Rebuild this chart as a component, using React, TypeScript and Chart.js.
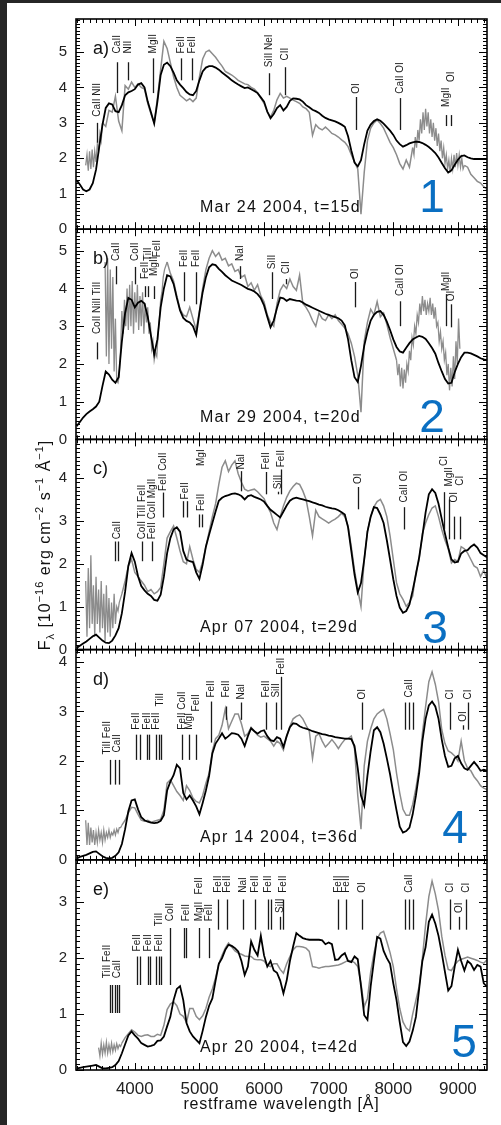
import React, { useEffect, useRef } from "react";
import { Chart, registerables } from "chart.js";
Chart.register(...registerables);

const FONT = "'Liberation Sans', Arial, Helvetica, sans-serif";

// wavelength grid [Å]
const W = [
  3100, 3150, 3200, 3250, 3300, 3350, 3400, 3450, 3500, 3550,
  3600, 3650, 3700, 3750, 3800, 3850, 3900, 3950, 4000, 4050,
  4100, 4150, 4200, 4250, 4300, 4350, 4400, 4450, 4500, 4550,
  4600, 4650, 4700, 4750, 4800, 4850, 4900, 4950, 5000, 5050,
  5100, 5150, 5200, 5250, 5300, 5350, 5400, 5450, 5500, 5550,
  5600, 5650, 5700, 5750, 5800, 5850, 5900, 5950, 6000, 6050,
  6100, 6150, 6200, 6250, 6300, 6350, 6400, 6450, 6500, 6550,
  6600, 6650, 6700, 6750, 6800, 6850, 6900, 6950, 7000, 7050,
  7100, 7150, 7200, 7250, 7300, 7350, 7400, 7450, 7500, 7550,
  7600, 7650, 7700, 7750, 7800, 7850, 7900, 7950, 8000, 8050,
  8100, 8150, 8200, 8250, 8300, 8350, 8400, 8450, 8500, 8550,
  8600, 8650, 8700, 8750, 8800, 8850, 8900, 8950, 9000, 9050,
  9100, 9150, 9200, 9250, 9300, 9350, 9400, 9450,
];

// panel a) Mar 24 2004
const A_MODEL = [
  1.38, 1.26, 1.12, 1.07, 1.12, 1.3, 1.68, 2.33, 2.95, 3.42,
  3.55, 3.52, 3.33, 3.3, 3.5, 3.78, 3.86, 3.9, 3.95, 4.08,
  4.12, 4.0, 3.6, 3.3, 2.98, 3.6, 4.35, 4.64, 4.7, 4.6,
  4.42, 4.2, 4.08, 3.98, 3.87, 3.8, 3.78, 3.9, 4.2, 4.45,
  4.56, 4.6, 4.6, 4.56, 4.5, 4.42, 4.35, 4.28, 4.2, 4.14,
  4.08, 4.03, 3.98, 4.0, 3.95, 3.9, 3.84, 3.72, 3.6, 3.32,
  3.13, 3.25, 3.42, 3.5, 3.35, 3.45, 3.62, 3.69, 3.68, 3.66,
  3.6, 3.5, 3.44, 3.37, 3.33, 3.28, 3.2, 3.14, 3.1, 3.07,
  3.04, 3.0, 2.95, 2.89, 2.62, 2.22, 1.88, 1.77, 1.95, 2.4,
  2.78, 2.95, 3.05, 3.1, 3.06, 2.98, 2.88, 2.78, 2.66, 2.5,
  2.4, 2.33, 2.37, 2.42, 2.45, 2.47, 2.46, 2.43, 2.38, 2.32,
  2.24, 2.15, 2.02, 1.87, 1.72, 1.6, 1.66, 1.82, 1.96, 2.06,
  2.08, 2.03, 2.0, 1.98, 1.98, 1.98, 1.98, 1.98,
];
const A_OBS = [
  null, null, null, null, null, null, null, null, 3.0, 2.9,
  3.35, 3.3, 3.75, 3.05, 2.78, 4.05, 3.95, 4.15, 4.0, 4.1,
  4.0, 3.95, 3.55, 3.25, 3.0, 3.7, 4.5, 5.3, 5.1, 4.7,
  4.3, 4.0, 3.78, 3.7, 3.62, 3.68, 3.6, 3.7, 4.3, 4.8,
  5.0, 5.05, 4.95, 4.85, 4.72, 4.6, 4.45, 4.4, 4.35, 4.28,
  4.2, 4.15, 4.1, 4.08, 4.0, 3.95, 3.85, 3.7, 3.55, 3.3,
  3.17, 3.35, 3.65, 3.83, 3.7, 3.75, 3.7, 3.64, 3.6, 3.55,
  3.45, 3.4, 3.3, 2.65, 2.95, 2.85, 2.8, 2.88, 2.8, 2.7,
  2.66, 2.6, 2.52, 2.45, 2.33, 2.1, 1.9, 1.7, 0.42, 1.6,
  2.5, 2.85, 3.0, 3.08, 2.98, 2.85, 2.65, 2.45, 2.3, 2.1,
  1.85, 1.7, 1.95, 1.75, 2.3, null, null, null, null, null,
  null, null, null, null, null, null, null, null, null, null,
  1.8, 1.75, 1.55, 1.45, 1.35, 1.3, 1.2, 1.12,
];
// noisy stretches of the observed spectrum, sampled every 20 Å: [start Å, step Å, values]
const A_NOISE_1 = [3240, 20, [1.8, 2.1, 1.65, 2.2, 1.7, 2.25, 1.75, 2.2, 1.9, 2.4, 2.2, 2.7, 2.5, 3.0]];
const A_NOISE_2 = [8300, 20, [
  2.3, 2.1, 2.6, 2.3, 2.8, 2.5, 3.1, 2.7, 3.3, 2.8,
  3.4, 2.9, 3.3, 2.7, 3.1, 2.6, 3.0, 2.5, 2.85, 2.35,
  2.7, 2.2, 2.5, 2.0, 2.3, 1.85, 2.1, 1.7, 1.95, 1.6,
  2.0, 1.7, 2.1, 1.75, 2.15, 1.8, 2.1, 1.75, 2.0, 1.7,
  1.8,
]];

// panel b) Mar 29 2004
const B_MODEL = [
  0.35, 0.46, 0.58, 0.67, 0.74, 0.8, 0.87, 1.0, 1.42, 1.8,
  1.72, 1.58, 1.5, 1.65, 2.6, 3.35, 3.75, 3.7, 3.5, 3.62,
  3.67, 3.6, 3.25, 2.75, 2.25, 2.65, 3.5, 4.0, 4.35, 4.32,
  4.12, 3.75, 3.42, 3.22, 3.14, 3.1, 3.0, 2.77, 3.36, 3.9,
  4.3, 4.56, 4.64, 4.62, 4.52, 4.44, 4.35, 4.28, 4.21, 4.17,
  4.13, 4.09, 4.04, 3.99, 3.96, 3.92, 3.85, 3.74, 3.55, 3.25,
  2.97, 3.15, 3.48, 3.76, 3.74, 3.67, 3.72, 3.7, 3.68, 3.67,
  3.63, 3.57, 3.53, 3.49, 3.45, 3.41, 3.37, 3.33, 3.3, 3.27,
  3.24, 3.21, 3.15, 3.02, 2.65, 2.1, 1.65, 1.52, 1.95, 2.48,
  2.85, 3.15, 3.3, 3.38, 3.4, 3.3, 3.12, 2.9, 2.65, 2.45,
  2.33, 2.3, 2.43, 2.55, 2.65, 2.7, 2.74, 2.72, 2.66, 2.55,
  2.42, 2.27, 2.02, 1.8, 1.6, 1.48, 1.5, 1.78, 2.0, 2.18,
  2.3, 2.3, 2.28, 2.24, 2.2, 2.15, 2.12, 2.1,
];
const B_OBS = [
  null, null, null, null, null, null, null, null, null, null,
  null, null, null, null, null, null, null, null, null, null,
  null, null, null, null, null, null, null, null, 4.7, 4.4,
  4.2, 3.8, 3.45, 3.3, 3.25, 3.5, 3.2, 2.9, 3.4, 4.0,
  4.5, 4.8, 5.0, 4.85, 4.95, 4.75, 4.8, 4.6, 4.65, 4.45,
  4.5, 4.3, 4.35, 4.05, 4.15, 3.95, 4.1, 3.8, 3.65, 3.3,
  3.1, 3.0, 3.6, 3.95, 4.1, 4.0, 4.25, 4.05, 3.95, 4.35,
  3.6, 3.5, 3.35, 3.15, 3.0, 3.35, 3.2, 3.15, 3.3, 3.2,
  3.3, 3.15, 3.05, 2.95, 2.8, 2.55, 2.2, 1.7, 0.72, 2.6,
  3.1, 3.45, 3.3, 3.65, 3.25, 3.35, 3.05, 2.7, 2.4, 2.1,
  null, null, null, null, null, null, null, null, null, null,
  null, null, null, null, null, null, null, null, null, null,
  null, null, null, null, null, null, null, null,
];
const B_NOISE_1 = [3540, 20, [
  4.7, 2.2, 4.8, 2.0, 4.5, 2.4, 4.3, 1.8, 3.2, 1.55,
  1.5, 1.7, 2.4, 3.4, 2.8, 3.7, 3.0, 4.0, 2.9, 4.1,
  3.0, 4.2, 2.8, 3.9, 3.1, 4.1, 2.9, 3.8, 3.0, 3.9,
  2.8, 3.6, 3.1, 3.5, 2.8, 3.1, 2.4, 2.6, 2.1, 2.3,
  2.2, 2.8, 3.2, 3.7, 3.9, 4.3, 4.5, 4.6, 4.7,
]];
const B_NOISE_2 = [8050, 20, [
  2.1, 1.7, 2.0, 1.4, 1.9, 1.35, 1.85, 1.5, 2.0, 1.8,
  2.35, 2.1, 2.7, 2.5, 3.0, 2.8, 3.3, 3.1, 3.6, 3.3,
  3.8, 3.4, 3.7, 3.3, 3.6, 3.4, 3.75, 3.3, 3.6, 3.2,
  3.5, 3.0, 3.1, 2.6, 2.85, 2.4, 2.6, 2.1, 2.3, 1.7,
  2.0, 1.3, 1.9, 1.4, 2.2, 1.6, 2.6, 2.0, 3.2, 2.4,
]];

// panel c) Apr 07 2004
const C_MODEL = [
  0.04, 0.09, 0.14, 0.19, 0.25, 0.31, 0.35, 0.28, 0.21, 0.16,
  0.15, 0.21, 0.33, 0.5, 0.85, 1.35, 1.95, 2.25, 2.05, 1.71,
  1.48, 1.38, 1.3, 1.25, 1.16, 1.14, 1.28, 1.7, 2.25, 2.6,
  2.8, 2.85, 2.75, 2.3, 2.1, 2.06, 2.04, 1.8, 1.65, 1.98,
  2.4, 2.68, 2.95, 3.22, 3.47, 3.54, 3.58, 3.6, 3.63, 3.64,
  3.62, 3.58, 3.5, 3.58, 3.6, 3.56, 3.53, 3.5, 3.45, 3.35,
  3.26, 3.2, 3.14, 3.08, 3.22, 3.36, 3.47, 3.52, 3.54, 3.52,
  3.5, 3.48, 3.46, 3.43, 3.41, 3.38, 3.36, 3.33, 3.31, 3.29,
  3.28, 3.25, 3.2, 3.15, 2.85, 2.3, 1.75, 1.33, 1.55, 2.1,
  2.75, 3.1, 3.32, 3.3, 3.15, 2.95, 2.55, 2.1, 1.64, 1.25,
  0.98, 0.86, 0.9, 1.05, 1.38, 1.75, 2.15, 2.65, 3.2, 3.62,
  3.74, 3.65, 3.4, 3.04, 2.7, 2.38, 2.1, 2.03, 2.05, 2.24,
  2.3, 2.32, 2.4, 2.45, 2.38, 2.25, 2.2, 2.15,
];
const C_OBS = [
  null, null, null, null, null, null, null, null, null, null,
  null, null, null, null, 1.3, 1.6, 1.95, 2.1, 1.8, 1.7,
  1.6, 1.5, 1.35, 1.4, 1.3, 1.35, 1.45, 2.0, 2.6, 2.75,
  2.88, 2.6, 2.3, 2.05, 2.0, 2.4, 2.1, 1.87, 1.8, 2.05,
  2.4, 2.75, 3.1, 3.4, 3.85, 4.25, 4.4, 4.15, 4.3, 4.4,
  4.1, 3.9, 3.74, 3.7, 3.72, 3.74, 3.68, 3.6, 3.52, 3.35,
  3.2, 2.95, 2.8, 3.1, 3.35, 3.55, 3.7, 3.8, 3.88, 3.85,
  3.7, 3.5, 3.1, 2.65, 3.25, 3.1, 3.05, 3.0, 2.95, 3.0,
  3.04, 3.1, 3.18, 3.1, 2.88, 2.4, 1.85, 1.4, 1.0, 2.1,
  2.75, 3.1, 3.33, 3.45, 3.5, 3.35, 3.1, 2.65, 2.1, 1.56,
  1.3, 1.17, 1.01, 1.1, 1.25, 1.8, 2.1, 2.7, 2.95, 3.15,
  3.3, 3.35, 3.1, 2.8, 2.55, 2.35, 2.02, 2.1, 2.05, 2.4,
  2.35, 2.25, 2.1, 1.95, 1.9, 1.7, 1.85, 1.65,
];
const C_NOISE_1 = [3240, 20, [
  1.6, 0.3, 1.9, 0.5, 2.2, 0.6, 1.5, 0.3, 1.7, 0.6,
  1.4, 0.4, 1.6, 0.5, 1.3, 0.2, 1.5, 0.4, 1.2, 0.3,
  1.1, 0.5, 1.3, 0.6, 1.0, 0.9, 1.1, 1.2, 1.3,
]];

// panel d) Apr 14 2004
const D_MODEL = [
  0.03, 0.06, 0.08, 0.1, 0.13, 0.16, 0.17, 0.12, 0.07, 0.04,
  0.03, 0.04, 0.08, 0.15, 0.32, 0.62, 0.98, 1.2, 1.22, 1.02,
  0.86, 0.8, 0.77, 0.75, 0.74, 0.75, 0.79, 0.9, 1.4, 1.58,
  1.71, 1.92, 1.85, 1.35, 1.22, 1.3, 1.2, 1.08, 0.92, 1.15,
  1.4, 1.7, 2.15, 2.35, 2.45, 2.56, 2.45, 2.5, 2.56, 2.55,
  2.53, 2.45, 2.3, 2.5, 2.66, 2.6, 2.55, 2.6, 2.62, 2.5,
  2.42, 2.4, 2.48, 2.45, 2.28, 2.5, 2.68, 2.76, 2.75, 2.7,
  2.67, 2.65, 2.63, 2.6, 2.58, 2.56, 2.54, 2.53, 2.51, 2.5,
  2.48, 2.47, 2.46, 2.45, 2.45, 2.44, 2.3, 1.85, 1.3, 1.1,
  1.7, 2.2, 2.62, 2.68, 2.58, 2.35, 2.05, 1.73, 1.35, 1.0,
  0.67, 0.55, 0.58, 0.65, 0.92, 1.3, 1.75, 2.4, 2.85, 3.12,
  3.2, 3.1, 2.85, 2.43, 2.1, 1.88, 1.9, 2.05, 2.1, 1.95,
  1.85, 1.82, 1.9, 1.98, 1.9, 1.8, 1.82, 1.8,
];
const D_OBS = [
  null, null, null, null, null, null, null, null, null, null,
  null, null, null, null, 0.7, 0.8, 0.95, 1.06, 1.05, 0.92,
  0.8, 0.78, 0.8, 0.76, 0.78, 0.8, 0.82, 1.0, 1.55, 1.62,
  1.5, 1.38, 1.3, 1.2, 1.5, 1.4, 1.25, 1.18, 1.15, 1.3,
  1.55, 1.75, 2.2, 2.45, 2.52, 2.72, 3.05, 2.65, 2.8, 2.95,
  2.95, 2.75, 2.5, 2.55, 2.68, 2.6, 2.52, 2.48, 2.5, 2.45,
  2.4, 2.3, 2.4, 2.35, 2.22, 2.5, 2.7, 2.85, 2.9, 2.93,
  2.85, 2.72, 2.6, 2.05, 2.5, 2.55, 2.4, 2.28, 2.35, 2.43,
  2.35, 2.25, 2.35, 2.43, 2.45, 2.5, 2.25, 1.3, 0.62, 1.9,
  2.4, 2.65, 2.85, 2.95, 3.0, 3.04, 2.85, 2.55, 2.23, 1.75,
  1.35, 1.02, 0.9, 0.9, 1.12, 1.45, 1.85, 2.55, 3.1, 3.6,
  3.8, 3.55, 3.2, 2.63, 2.35, 2.2, 2.16, 2.1, 2.0, 2.4,
  2.0, 1.85, 1.8, 1.68, 1.6, 1.5, 1.45, 1.42,
];
const D_NOISE_1 = [3240, 20, [
  0.8, 0.3, 0.75, 0.3, 0.65, 0.35, 0.6, 0.3, 0.55, 0.35,
  0.6, 0.4, 0.55, 0.35, 0.6, 0.4, 0.55, 0.45, 0.6, 0.45,
  0.55, 0.5, 0.6, 0.5, 0.62, 0.55, 0.65, 0.65, 0.7,
]];

// panel e) Apr 20 2004
const E_MODEL = [
  0.03, 0.04, 0.05, 0.06, 0.07, 0.08, 0.09, 0.06, 0.03, 0.03,
  0.04, 0.05, 0.09, 0.16, 0.3, 0.46, 0.62, 0.69, 0.62, 0.56,
  0.48, 0.45, 0.42, 0.43, 0.45, 0.52, 0.53, 0.6, 0.78, 0.95,
  1.25, 1.45, 1.5, 1.25, 0.84, 0.69, 0.6, 0.54, 0.48, 0.7,
  0.95, 1.15, 1.28, 1.6, 1.9, 2.0, 2.15, 2.24, 2.22, 2.18,
  2.12, 1.95, 1.7, 1.85, 2.3, 2.15, 2.05, 2.4, 2.05, 1.85,
  1.95, 1.78, 1.74, 1.6, 1.37, 1.6, 1.95, 2.21, 2.45, 2.4,
  2.36, 2.34, 2.33, 2.33, 2.33, 2.33, 2.32, 2.25, 2.28, 2.25,
  1.97, 1.98, 2.05, 2.09, 1.95, 1.93, 2.03, 1.98, 1.5, 0.98,
  0.9, 1.5, 1.95, 2.38, 2.35, 2.13, 2.0, 1.9, 1.55, 1.25,
  0.85, 0.5, 0.43, 0.51, 0.7, 0.95, 1.45, 1.95, 2.2, 2.65,
  2.78, 2.62, 2.4, 2.09, 1.75, 1.42, 1.5, 1.85, 2.15, 1.95,
  1.78, 1.95, 1.9, 1.79, 1.88, 1.85, 1.55, 1.49,
];
const E_OBS = [
  null, null, null, null, null, null, null, null, null, null,
  null, null, null, null, 0.48, 0.58, 0.65, 0.72, 0.68, 0.62,
  0.6, 0.62, 0.63, 0.6, 0.6, 0.64, 0.62, 0.8, 1.08, 1.18,
  1.22, 1.15, 1.0, 0.96, 0.85, 1.1, 1.1, 0.96, 0.9, 0.97,
  1.1, 1.3, 1.45, 1.65, 1.9, 2.05, 2.18, 2.27, 2.2, 2.13,
  2.09, 2.07, 2.04, 2.03, 2.03, 1.98, 1.97, 1.97, 1.95, 1.87,
  1.85, 1.9, 1.9, 1.8, 1.73, 1.9, 2.03, 2.15, 2.21, 2.21,
  2.2, 2.18, 2.12, 1.85, 1.84, 1.82, 1.84, 1.85, 1.85, 1.86,
  1.87, 1.88, 1.9, 1.93, 1.96, 1.95, 1.92, 1.85, 1.55, 1.13,
  1.28, 1.75, 2.08, 2.35, 2.45, 2.48, 2.3, 2.1, 1.85, 1.45,
  1.1, 0.86, 0.75, 0.7, 1.0, 1.25, 1.5, 2.0, 2.6, 3.1,
  3.38, 3.15, 2.85, 2.39, 2.05, 1.8, 1.78, 1.88, 1.95, 1.98,
  2.0, 2.02, 2.0, 1.98, 1.96, 1.93, 1.91, 1.97,
];
const E_NOISE_1 = [3440, 20, [
  0.4, 0.25, 0.48, 0.28, 0.45, 0.3, 0.5, 0.3, 0.45, 0.32,
  0.48, 0.33, 0.45, 0.35, 0.47, 0.38, 0.45, 0.42, 0.48,
]];

// line identifications: [wavelength, text, line low, line high, text start]
type LineId = [number, string, number | null, number | null, number | null];
const A_LINES: LineId[] = [
  [3417, "CaII NII", 2.44, 3.0, 3.17],
  [3727, "CaII", 3.84, 4.71, 4.96],
  [3887, "NII", 4.2, 4.71, 4.96],
  [4283, "MgII", 3.84, 4.82, 4.96],
  [4722, "FeII", 4.2, 4.82, 4.96],
  [4892, "FeII", 4.2, 4.82, 4.96],
  [6077, "SiII NeI", 3.78, 4.4, 4.57],
  [6319, "CII", 3.78, 4.57, 4.76],
  [7417, "OI", 2.8, 3.73, 3.82],
  [8108, "CaII OI", 2.8, 3.7, 3.82],
  [8819, "MgII", 2.91, 3.22, 3.45],
  [8896, "OI", 2.91, 3.22, 4.15],
];
const B_LINES: LineId[] = [
  [3408, "CoII NiII TiII", 2.12, 2.57, 2.79],
  [3706, "CaII", 4.11, 4.59, 4.73],
  [4000, "CoII", 4.11, 4.57, 4.73],
  [4160, "FeII", 3.77, 4.06, 4.25],
  [4211, "TiII", 3.77, 4.06, 4.73],
  [4294, "MgII", 3.72, 4.06, 4.33],
  [4336, "FeII", null, null, 4.83],
  [4758, "FeII", 3.66, 4.43, 4.57],
  [4954, "FeII", 3.58, 4.43, 4.57],
  [5623, "NaI", 4.25, 4.59, 4.73],
  [6129, "SiII", 3.72, 4.43, 4.51],
  [6345, "CII", 4.11, 4.25, 4.38],
  [7401, "OI", 3.5, 4.17, 4.25],
  [8108, "CaII OI", 3.0, 3.66, 3.8],
  [8818, "MgII", 3.0, 3.85, 3.93],
  [8896, "OI", 2.97, 3.58, 3.66],
];
const C_LINES: LineId[] = [
  [3700, "", 2.06, 2.52, null],
  [3740, "", 2.06, 2.52, null],
  [3720, "CaII", null, null, 2.57],
  [4119, "CoII TiII FeII", 2.06, 2.52, 2.57],
  [4273, "FeII CoII MgII", 2.06, 2.52, 2.57],
  [4438, "FeII CoII", 3.08, 3.66, 3.7],
  [4747, "", 3.08, 3.46, null],
  [4800, "", 3.08, 3.46, null],
  [4773, "FeII", null, null, 3.5],
  [4994, "", 2.85, 3.15, null],
  [5046, "", 2.85, 3.15, null],
  [5020, "FeII", null, null, 3.23],
  [5020, "MgI", null, null, 4.28],
  [5650, "NaI", 3.69, 4.16, 4.2],
  [6036, "FeII", 3.62, 4.14, 4.2],
  [6216, "SiII", 3.62, 3.68, 3.74],
  [6268, "FeII", 3.62, 4.2, 4.25],
  [7452, "OI", 3.27, 3.79, 3.86],
  [8159, "CaII OI", 2.8, 3.32, 3.43],
  [8782, "CI", 2.8, 3.67, 4.28],
  [8855, "MgII", 2.57, 3.5, 3.8],
  [8932, "OI", 2.57, 3.1, 3.43],
  [9035, "CI", 2.57, 3.1, 3.82],
];
const D_LINES: LineId[] = [
  [3614, "", 1.52, 2.02, null],
  [3691, "", 1.52, 2.02, null],
  [3758, "", 1.52, 2.02, null],
  [3572, "TiII FeII", null, null, 2.13],
  [3717, "CaII", null, null, 2.17],
  [4026, "FeII", 2.02, 2.53, 2.63],
  [4077, "", 2.02, 2.53, null],
  [4181, "FeII", 2.02, 2.53, 2.63],
  [4221, "", 2.02, 2.53, null],
  [4325, "FeII", 2.02, 2.53, 2.63],
  [4376, "", 2.02, 2.53, null],
  [4413, "", 2.02, 2.53, null],
  [4386, "TiII", null, null, 3.1],
  [4737, "FeII CoII", 2.02, 2.53, 2.63],
  [4840, "MgI", 2.02, 2.53, 2.63],
  [4954, "FeII", 2.02, 2.53, 3.0],
  [5185, "FeII", 2.37, 3.2, 3.28],
  [5418, "FeII", 2.83, 3.1, 3.28],
  [5650, "NaI", 2.83, 3.18, 3.24],
  [6025, "FeII", 2.63, 3.18, 3.28],
  [6190, "SiII", 2.63, 3.18, 3.28],
  [6268, "FeII", 2.63, 3.7, 3.74],
  [7520, "OI", 2.63, 3.18, 3.24],
  [8174, "", 2.63, 3.18, null],
  [8240, "CaII", 2.63, 3.18, 3.28],
  [8303, "", 2.63, 3.18, null],
  [8870, "CI", 2.63, 3.18, 3.24],
  [9076, "OI", 2.63, 2.72, 2.79],
  [9153, "CI", 2.63, 3.18, 3.24],
];
const E_LINES: LineId[] = [
  [3614, "", 1.02, 1.52, null],
  [3650, "", 1.02, 1.52, null],
  [3691, "", 1.02, 1.52, null],
  [3720, "", 1.02, 1.52, null],
  [3758, "", 1.02, 1.52, null],
  [3572, "TiII FeII", null, null, 1.64],
  [3717, "CaII", null, null, 1.64],
  [4036, "FeII", 1.52, 2.03, 2.12],
  [4077, "", 1.52, 2.03, null],
  [4207, "FeII", 1.52, 2.03, 2.12],
  [4233, "", 1.52, 2.03, null],
  [4335, "", 1.52, 2.03, null],
  [4376, "FeII", 1.52, 2.03, 2.12],
  [4413, "", 1.52, 2.03, null],
  [4376, "TiII", null, null, 2.57],
  [4552, "CoII", 1.52, 2.54, 2.66],
  [4763, "", 2.0, 2.54, null],
  [4799, "FeII", 2.0, 2.54, 2.66],
  [4994, "MgII", 2.0, 2.54, 2.66],
  [4994, "FeII", null, null, 3.14],
  [5149, "FeII", 2.0, 2.54, 2.66],
  [5288, "FeII", 2.51, 3.05, 3.17],
  [5427, "FeII", 2.51, 3.05, 3.17],
  [5676, "NaI", 2.51, 3.05, 3.17],
  [5856, "FeII", 2.51, 3.05, 3.17],
  [6061, "FeII", 2.51, 3.05, 3.17],
  [6113, "", 2.51, 3.05, null],
  [6242, "SiII", 2.51, 2.74, 2.81],
  [6293, "FeII", 2.51, 3.05, 3.17],
  [7143, "FeII", 2.51, 3.05, 3.17],
  [7273, "FeII", 2.51, 3.05, 3.17],
  [7520, "OI", 2.51, 3.05, 3.17],
  [8174, "", 2.51, 3.05, null],
  [8240, "CaII", 2.51, 3.05, 3.17],
  [8303, "", 2.51, 3.05, null],
  [8870, "CI", 2.51, 3.05, 3.17],
  [9024, "OI", 2.51, 2.74, 2.81],
  [9127, "CI", 2.51, 3.05, 3.17],
];

const X_TICKS = [4000, 5000, 6000, 7000, 8000, 9000];

const PANELS = [
  { id: "yA", max: 5.93, ticks: [0, 1, 2, 3, 4, 5], model: A_MODEL, obs: A_OBS, noise: [A_NOISE_1, A_NOISE_2], lines: A_LINES, letter: "a)", date: "Mar 24 2004, t=15d", num: "1", numX: 432, numUp: 17 },
  { id: "yB", max: 5.57, ticks: [0, 1, 2, 3, 4, 5], model: B_MODEL, obs: B_OBS, noise: [B_NOISE_1, B_NOISE_2], lines: B_LINES, letter: "b)", date: "Mar 29 2004, t=20d", num: "2", numX: 432, numUp: 7 },
  { id: "yC", max: 4.9, ticks: [0, 1, 2, 3, 4], model: C_MODEL, obs: C_OBS, noise: [C_NOISE_1], lines: C_LINES, letter: "c)", date: "Apr 07 2004, t=29d", num: "3", numX: 435, numUp: 7 },
  { id: "yD", max: 4.25, ticks: [0, 1, 2, 3, 4], model: D_MODEL, obs: D_OBS, noise: [D_NOISE_1], lines: D_LINES, letter: "d)", date: "Apr 14 2004, t=36d", num: "4", numX: 455, numUp: 17 },
  { id: "yE", max: 3.76, ticks: [0, 1, 2, 3], model: E_MODEL, obs: E_OBS, noise: [E_NOISE_1], lines: E_LINES, letter: "e)", date: "Apr 20 2004, t=42d", num: "5", numX: 464, numUp: 13 },
];

const decorPlugin = {
  id: "decor",
  afterDatasetsDraw(chart: any) {
    const ctx = chart.ctx as CanvasRenderingContext2D;
    const xs = chart.scales.x;
    const L = chart.chartArea.left;
    const R = chart.chartArea.right;
    ctx.save();
    PANELS.forEach((p) => {
      const ys = chart.scales[p.id];
      const top = ys.top;
      const bot = ys.bottom;
      ctx.strokeStyle = "#000";
      ctx.lineWidth = 1;
      ctx.beginPath();
      for (let w = 3100; w <= 9400; w += 100) {
        const x = Math.round(xs.getPixelForValue(w)) + 0.5;
        const len = w % 1000 === 0 ? 7 : 4;
        ctx.moveTo(x, top);
        ctx.lineTo(x, top + len);
        ctx.moveTo(x, bot);
        ctx.lineTo(x, bot - len);
      }
      const nMinor = Math.floor(p.max * 10 + 1e-6);
      for (let k = 0; k <= nMinor; k++) {
        const y = Math.round(ys.getPixelForValue(k / 10)) + 0.5;
        const len = k % 10 === 0 ? 8 : 4;
        ctx.moveTo(L, y);
        ctx.lineTo(L + len, y);
        ctx.moveTo(R, y);
        ctx.lineTo(R - len, y);
      }
      ctx.stroke();
      ctx.lineWidth = 1.6;
      ctx.strokeRect(L, top, R - L, bot - top);

      ctx.lineWidth = 1.3;
      ctx.strokeStyle = "#1a1a1a";
      ctx.fillStyle = "#1a1a1a";
      ctx.font = `10px ${FONT}`;
      p.lines.forEach(([w, t, lo, hi, ty]) => {
        const x = Math.round(xs.getPixelForValue(w)) + 0.5;
        if (lo !== null && hi !== null) {
          ctx.beginPath();
          ctx.moveTo(x, ys.getPixelForValue(lo));
          ctx.lineTo(x, ys.getPixelForValue(hi));
          ctx.stroke();
        }
        if (t) {
          const yStart = ys.getPixelForValue(ty !== null ? ty : (hi as number) + 0.1);
          ctx.save();
          ctx.translate(x, yStart);
          ctx.rotate(-Math.PI / 2);
          ctx.textAlign = "left";
          ctx.textBaseline = "middle";
          ctx.fillText(t, 0, 0);
          ctx.restore();
        }
      });

      ctx.fillStyle = "#111";
      ctx.textAlign = "left";
      ctx.textBaseline = "middle";
      ctx.font = `18px ${FONT}`;
      ctx.fillText(p.letter, 93, top + 30);
      ctx.font = `16px ${FONT}`;
      (ctx as any).letterSpacing = "1.2px";
      ctx.fillText(p.date, 200, bot - 22);
      (ctx as any).letterSpacing = "0px";
      ctx.fillStyle = "#0a6fc2";
      ctx.font = `46px ${FONT}`;
      ctx.textAlign = "center";
      ctx.textBaseline = "alphabetic";
      ctx.fillText(p.num, p.numX, bot - p.numUp);
    });

    ctx.fillStyle = "#111";
    ctx.font = `16px ${FONT}`;
    (ctx as any).letterSpacing = "0.8px";
    ctx.textAlign = "center";
    ctx.textBaseline = "middle";
    ctx.fillText("restframe wavelength [Å]", (L + R) / 2, 1105);

    const parts: [string, number, number][] = [
      ["F", 16, 0], ["λ", 11, 4], [" [10", 16, 0], ["−16", 11, -7],
      [" erg cm", 16, 0], ["−2", 11, -7], [" s", 16, 0], ["−1", 11, -7],
      [" Å", 16, 0], ["−1", 11, -7], ["]", 16, 0],
    ];
    (ctx as any).letterSpacing = "1px";
    let total = 0;
    parts.forEach(([t, s]) => {
      ctx.font = `${s}px ${FONT}`;
      total += ctx.measureText(t).width;
    });
    ctx.translate(50, 545 + total / 2);
    ctx.rotate(-Math.PI / 2);
    ctx.textAlign = "left";
    ctx.textBaseline = "alphabetic";
    let cx = 0;
    parts.forEach(([t, s, dy]) => {
      ctx.font = `${s}px ${FONT}`;
      ctx.fillText(t, cx, dy);
      cx += ctx.measureText(t).width;
    });
    ctx.restore();
  },
};

export default function App() {
  const ref = useRef<HTMLCanvasElement>(null);

  useEffect(() => {
    if (!ref.current) return;
    const datasets: any[] = [];
    const grayStyle = { borderColor: "#8c8c8c", borderWidth: 1.5, pointRadius: 0, tension: 0, spanGaps: false, order: 1 };
    PANELS.forEach((p) => {
      datasets.push({
        label: p.id + " model",
        data: W.map((w, i) => ({ x: w, y: p.model[i] ?? null })),
        xAxisID: "x",
        yAxisID: p.id,
        borderColor: "#000",
        borderWidth: 1.8,
        pointRadius: 0,
        tension: 0,
        spanGaps: false,
        order: 0,
      });
      datasets.push({
        label: p.id + " observed",
        data: W.map((w, i) => ({ x: w, y: p.obs[i] ?? null })),
        xAxisID: "x",
        yAxisID: p.id,
        ...grayStyle,
      });
      p.noise.forEach((seg: any, k: number) => {
        const [start, step, vals] = seg as [number, number, number[]];
        datasets.push({
          label: p.id + " observed " + (k + 1),
          data: vals.map((v, i) => ({ x: start + i * step, y: v })),
          xAxisID: "x",
          yAxisID: p.id,
          ...grayStyle,
          borderWidth: 1.3,
        });
      });
    });

    const scales: any = {
      x: {
        type: "linear",
        position: "bottom",
        min: 3090,
        max: 9450,
        grid: { display: false, drawTicks: false },
        border: { display: false },
        ticks: {
          font: { family: FONT, size: 17 },
          color: "#222",
          padding: 9,
          autoSkip: false,
          maxRotation: 0,
          callback: (v: any) => String(v),
        },
        afterBuildTicks: (s: any) => {
          s.ticks = X_TICKS.map((v) => ({ value: v }));
        },
        afterFit: (s: any) => {
          s.height = 55;
        },
      },
    };
    PANELS.forEach((p, i) => {
      scales[p.id] = {
        type: "linear",
        position: "left",
        stack: "spectra",
        stackWeight: 1,
        weight: PANELS.length - i,
        min: 0,
        max: p.max,
        grid: { display: false, drawTicks: false },
        border: { display: false },
        ticks: {
          font: { family: FONT, size: 15 },
          color: "#222",
          padding: 9,
          autoSkip: false,
          callback: (v: any) => String(v),
        },
        afterBuildTicks: (s: any) => {
          s.ticks = p.ticks.map((v) => ({ value: v }));
        },
        afterFit: (s: any) => {
          s.width = 76;
        },
      };
    });

    const chart = new Chart(ref.current, {
      type: "line",
      data: { datasets },
      options: {
        responsive: false,
        maintainAspectRatio: false,
        animation: false,
        events: [],
        layout: { padding: { left: 0, right: 14, top: 19, bottom: 0 } },
        plugins: { legend: { display: false }, tooltip: { enabled: false } },
        scales,
      },
      plugins: [decorPlugin],
    } as any);
    return () => chart.destroy();
  }, []);

  return (
    <div style={{ position: "fixed", left: 0, top: 0, width: 501, height: 1125, background: "#262626", overflow: "hidden" }}>
      <div style={{ position: "absolute", left: 7, top: 3, right: 0, bottom: 0, background: "#fff" }} />
      <canvas ref={ref} width={501} height={1125} style={{ position: "absolute", left: 0, top: 0, width: 501, height: 1125 }} />
    </div>
  );
}
